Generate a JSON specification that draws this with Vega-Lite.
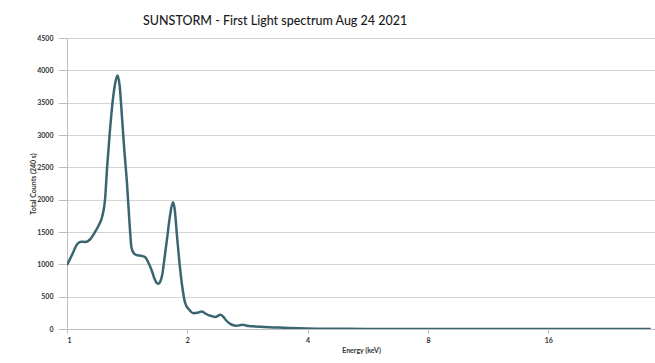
{
  "$schema": "https://vega.github.io/schema/vega-lite/v6.json",
  "width": 588,
  "height": 291,
  "autosize": {"type": "none"},
  "padding": {"left": 67, "top": 38, "right": 0, "bottom": 34},
  "background": "white",
  "title": {
    "text": "SUNSTORM - First Light spectrum Aug 24 2021",
    "font": "Lato",
    "fontSize": 12.5,
    "fontWeight": 500,
    "color": "#1a1a1a",
    "anchor": "start",
    "frame": "group",
    "dx": 76,
    "offset": 7
  },
  "config": {
    "view": {"stroke": null},
    "font": "Lato"
  },
  "data": {
    "values": [
      {"energy": 1.00, "counts": 990},
      {"energy": 1.03, "counts": 1150},
      {"energy": 1.06, "counts": 1310},
      {"energy": 1.085, "counts": 1350},
      {"energy": 1.11, "counts": 1345},
      {"energy": 1.14, "counts": 1380},
      {"energy": 1.17, "counts": 1480},
      {"energy": 1.20, "counts": 1600},
      {"energy": 1.225, "counts": 1740},
      {"energy": 1.245, "counts": 2000},
      {"energy": 1.26, "counts": 2500},
      {"energy": 1.28, "counts": 3050},
      {"energy": 1.30, "counts": 3500},
      {"energy": 1.32, "counts": 3800},
      {"energy": 1.338, "counts": 3920},
      {"energy": 1.355, "counts": 3750},
      {"energy": 1.372, "counts": 3300},
      {"energy": 1.39, "counts": 2800},
      {"energy": 1.413, "counts": 2250},
      {"energy": 1.435, "counts": 1600},
      {"energy": 1.45, "counts": 1260},
      {"energy": 1.47, "counts": 1170},
      {"energy": 1.50, "counts": 1140},
      {"energy": 1.54, "counts": 1130},
      {"energy": 1.57, "counts": 1110},
      {"energy": 1.60, "counts": 1020},
      {"energy": 1.63, "counts": 900},
      {"energy": 1.66, "counts": 760},
      {"energy": 1.69, "counts": 700},
      {"energy": 1.71, "counts": 730},
      {"energy": 1.73, "counts": 830},
      {"energy": 1.75, "counts": 1050},
      {"energy": 1.78, "counts": 1400},
      {"energy": 1.81, "counts": 1750},
      {"energy": 1.841, "counts": 1960},
      {"energy": 1.86, "counts": 1850},
      {"energy": 1.884, "counts": 1450},
      {"energy": 1.91, "counts": 1050},
      {"energy": 1.94, "counts": 680},
      {"energy": 1.976, "counts": 400},
      {"energy": 2.02, "counts": 300},
      {"energy": 2.07, "counts": 245},
      {"energy": 2.12, "counts": 250},
      {"energy": 2.175, "counts": 270},
      {"energy": 2.22, "counts": 240},
      {"energy": 2.26, "counts": 215},
      {"energy": 2.30, "counts": 200},
      {"energy": 2.35, "counts": 185},
      {"energy": 2.42, "counts": 220},
      {"energy": 2.46, "counts": 190},
      {"energy": 2.50, "counts": 135},
      {"energy": 2.56, "counts": 80},
      {"energy": 2.62, "counts": 55},
      {"energy": 2.66, "counts": 50},
      {"energy": 2.72, "counts": 62},
      {"energy": 2.76, "counts": 66},
      {"energy": 2.80, "counts": 55},
      {"energy": 2.85, "counts": 45},
      {"energy": 2.95, "counts": 40},
      {"energy": 3.05, "counts": 35},
      {"energy": 3.2, "counts": 28},
      {"energy": 3.4, "counts": 22},
      {"energy": 3.6, "counts": 15},
      {"energy": 3.8, "counts": 10},
      {"energy": 4.0, "counts": 7},
      {"energy": 4.5, "counts": 4},
      {"energy": 5, "counts": 2},
      {"energy": 6, "counts": 1},
      {"energy": 7, "counts": 0},
      {"energy": 8, "counts": 0},
      {"energy": 10, "counts": 0},
      {"energy": 12, "counts": 0},
      {"energy": 16, "counts": 0},
      {"energy": 20, "counts": 0},
      {"energy": 24, "counts": 0},
      {"energy": 28.9, "counts": 0}
    ]
  },
  "mark": {
    "type": "line",
    "interpolate": "monotone",
    "color": "#3a6672",
    "strokeWidth": 2.5,
    "clip": true
  },
  "encoding": {
    "x": {
      "field": "energy",
      "type": "quantitative",
      "scale": {"type": "log", "base": 2, "domain": [1, 29.6], "nice": false},
      "axis": {
        "title": "Energy (keV)",
        "values": [1, 2, 4, 8, 16],
        "format": "d",
        "grid": false,
        "domainColor": "#bfbfbf",
        "tickColor": "#bfbfbf",
        "tickSize": 4,
        "labelPadding": 3,
        "labelFont": "Lato",
        "labelFontSize": 7,
        "labelFontWeight": "bold",
        "labelColor": "#333333",
        "titleFont": "Lato",
        "titleFontSize": 7,
        "titleFontWeight": "bold",
        "titleColor": "#333333",
        "titlePadding": 3
      }
    },
    "y": {
      "field": "counts",
      "type": "quantitative",
      "scale": {"domain": [0, 4500], "nice": false},
      "axis": {
        "title": "Total Counts (240 s)",
        "values": [0, 500, 1000, 1500, 2000, 2500, 3000, 3500, 4000, 4500],
        "format": "d",
        "grid": true,
        "gridColor": "#d4d4d4",
        "gridWidth": 1,
        "domainColor": "#bfbfbf",
        "tickColor": "#bfbfbf",
        "tickSize": 9,
        "labelPadding": 5,
        "labelFont": "Lato",
        "labelFontSize": 7,
        "labelFontWeight": "bold",
        "labelColor": "#333333",
        "titleFont": "Lato",
        "titleFontSize": 7,
        "titleFontWeight": "bold",
        "titleColor": "#333333",
        "titlePadding": 0
      }
    }
  }
}
